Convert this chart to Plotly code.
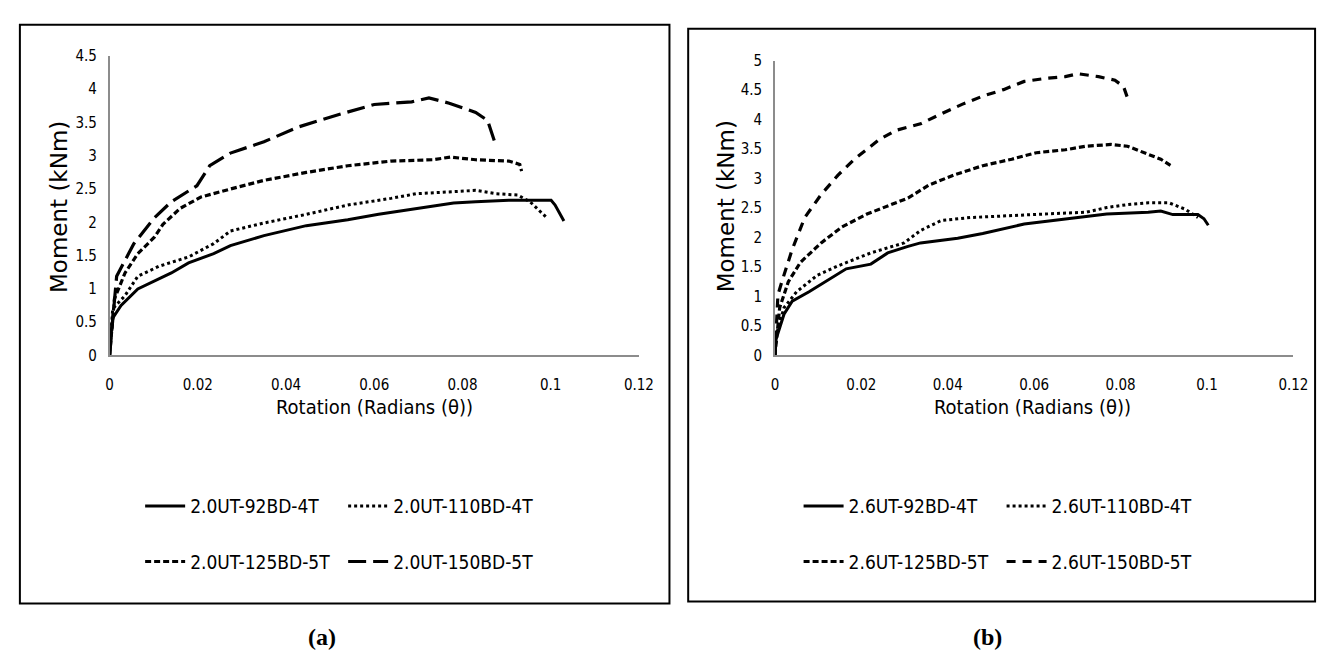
import plotly.graph_objects as go

W, H = 1328, 657

# ---------------- data: panel (a) ----------------
a92_x = [0, 0.0002, 0.0007, 0.0026, 0.0064, 0.0102, 0.014, 0.0179, 0.0236, 0.0274, 0.035, 0.0446, 0.054, 0.061, 0.0685, 0.0733, 0.078, 0.083, 0.0905, 0.1001, 0.101, 0.103]
a92_y = [0, 0.22, 0.56, 0.75, 1.0, 1.12, 1.24, 1.39, 1.53, 1.65, 1.8, 1.95, 2.04, 2.12, 2.19, 2.24, 2.29, 2.31, 2.33, 2.33, 2.26, 2.02]

a110_x = [0, 0.0007, 0.0035, 0.0064, 0.0112, 0.0179, 0.0236, 0.0274, 0.035, 0.0446, 0.054, 0.0638, 0.0695, 0.078, 0.083, 0.0877, 0.0925, 0.0953, 0.0977, 0.0991]
a110_y = [0, 0.7, 0.9, 1.19, 1.34, 1.48, 1.68, 1.87, 1.99, 2.12, 2.26, 2.36, 2.43, 2.46, 2.48, 2.43, 2.41, 2.31, 2.16, 2.07]

a125_x = [0, 0.0011, 0.0035, 0.0064, 0.0102, 0.0121, 0.016, 0.0207, 0.0274, 0.035, 0.0446, 0.054, 0.0638, 0.0733, 0.0772, 0.083, 0.0905, 0.093, 0.0934]
a125_y = [0, 0.85, 1.24, 1.53, 1.78, 1.97, 2.21, 2.38, 2.5, 2.63, 2.75, 2.85, 2.92, 2.94, 2.98, 2.94, 2.92, 2.87, 2.77]

a150_x = [0, 0.0016, 0.0055, 0.0102, 0.014, 0.0198, 0.0227, 0.0274, 0.035, 0.0427, 0.052, 0.060, 0.0685, 0.0724, 0.077, 0.083, 0.0857, 0.0872]
a150_y = [0, 1.19, 1.68, 2.07, 2.31, 2.55, 2.85, 3.04, 3.21, 3.43, 3.62, 3.77, 3.81, 3.87, 3.79, 3.65, 3.53, 3.23]

# ---------------- data: panel (b) ----------------
b92_x = [0, 0.0002, 0.0021, 0.004, 0.0079, 0.0117, 0.0165, 0.0222, 0.0261, 0.0308, 0.0337, 0.0423, 0.0481, 0.0577, 0.0672, 0.0768, 0.0864, 0.0893, 0.0921, 0.0979, 0.0993, 0.1003]
b92_y = [0, 0.26, 0.7, 0.92, 1.08, 1.25, 1.47, 1.55, 1.74, 1.85, 1.91, 1.99, 2.07, 2.23, 2.32, 2.4, 2.43, 2.45, 2.39, 2.39, 2.32, 2.21]

b110_x = [0, 0.0004, 0.0021, 0.005, 0.0098, 0.0146, 0.0222, 0.0299, 0.0337, 0.0385, 0.0452, 0.0529, 0.0625, 0.072, 0.0768, 0.0816, 0.0864, 0.0912, 0.095, 0.0979]
b110_y = [0, 0.37, 0.81, 1.08, 1.36, 1.52, 1.74, 1.91, 2.12, 2.29, 2.34, 2.37, 2.4, 2.43, 2.51, 2.56, 2.59, 2.59, 2.48, 2.34]

b125_x = [0, 0.0011, 0.0031, 0.0059, 0.0107, 0.0155, 0.0213, 0.027, 0.0308, 0.0356, 0.0414, 0.0481, 0.0548, 0.0605, 0.0672, 0.072, 0.0778, 0.0816, 0.0854, 0.0893, 0.0917]
b125_y = [0, 0.81, 1.25, 1.58, 1.91, 2.18, 2.4, 2.56, 2.67, 2.89, 3.06, 3.22, 3.33, 3.44, 3.49, 3.55, 3.58, 3.55, 3.44, 3.33, 3.22]

b150_x = [0, 0.0002, 0.0007, 0.0016, 0.004, 0.0069, 0.0107, 0.0146, 0.0184, 0.0222, 0.0241, 0.028, 0.0337, 0.0385, 0.0433, 0.0481, 0.0529, 0.0577, 0.0625, 0.0672, 0.0701, 0.0749, 0.0787, 0.0807, 0.0816]
b150_y = [0, 0.32, 1.03, 1.25, 1.8, 2.34, 2.73, 3.06, 3.33, 3.55, 3.66, 3.82, 3.93, 4.1, 4.26, 4.4, 4.51, 4.65, 4.7, 4.73, 4.78, 4.73, 4.67, 4.56, 4.37]

names_a = ["2.0UT-92BD-4T", "2.0UT-110BD-4T", "2.0UT-125BD-5T", "2.0UT-150BD-5T"]
names_b = ["2.6UT-92BD-4T", "2.6UT-110BD-4T", "2.6UT-125BD-5T", "2.6UT-150BD-5T"]

x_ticks = [0, 0.02, 0.04, 0.06, 0.08, 0.1, 0.12]
x_ticktext = ["0", "0.02", "0.04", "0.06", "0.08", "0.1", "0.12"]
ya_ticks = [0, 0.5, 1, 1.5, 2, 2.5, 3, 3.5, 4, 4.5]
yb_ticks = [0, 0.5, 1, 1.5, 2, 2.5, 3, 3.5, 4, 4.5, 5]

x_title = "Rotation (Radians (θ))"
y_title = "Moment (kNm)"

NARROW = "Liberation Sans Narrow, Arial Narrow, DejaVu Sans Condensed, sans-serif"

def px(x):
    return x / W

def py(y):
    return 1 - y / H

styles_a = [
    dict(width=3, dash="solid"),
    dict(width=3, dash="dot"),
    dict(width=3.2, dash="6px,3px"),
    dict(width=3.2, dash="18px,7px"),
]
styles_b = [
    dict(width=3, dash="solid"),
    dict(width=3, dash="dot"),
    dict(width=3.2, dash="6px,3px"),
    dict(width=3.2, dash="9px,7px"),
]

fig = go.Figure()

series_a = [(a92_x, a92_y), (a110_x, a110_y), (a125_x, a125_y), (a150_x, a150_y)]
series_b = [(b92_x, b92_y), (b110_x, b110_y), (b125_x, b125_y), (b150_x, b150_y)]
leg_a = ["legend", "legend", "legend2", "legend2"]
leg_b = ["legend3", "legend3", "legend4", "legend4"]

for (xs, ys), nm, st, lg in zip(series_a, names_a, styles_a, leg_a):
    fig.add_trace(go.Scatter(x=xs, y=ys, name=nm, mode="lines",
                             line=dict(color="black", **st),
                             xaxis="x", yaxis="y", legend=lg))
for (xs, ys), nm, st, lg in zip(series_b, names_b, styles_b, leg_b):
    fig.add_trace(go.Scatter(x=xs, y=ys, name=nm, mode="lines",
                             line=dict(color="black", **st),
                             xaxis="x2", yaxis="y2", legend=lg))

axis_common = dict(showgrid=False, zeroline=False, showline=True,
                   linecolor="#8c8c8c", linewidth=1.5, ticks="",
                   tickfont=dict(family=NARROW, size=15, color="black"))

fig.update_layout(
    width=W, height=H,
    margin=dict(l=0, r=0, t=0, b=0),
    paper_bgcolor="white", plot_bgcolor="white",
    showlegend=True,
    xaxis=dict(domain=[px(99), px(636)], range=[0, 0.12], anchor="y",
               tickvals=x_ticks, ticktext=x_ticktext, ticklabelstandoff=15, **axis_common),
    yaxis=dict(domain=[py(348), py(40)], range=[0, 4.5], anchor="x",
               tickvals=ya_ticks, ticklabelstandoff=8, **axis_common),
    xaxis2=dict(domain=[px(774), px(1300)], range=[0, 0.12], anchor="y2",
                tickvals=x_ticks, ticktext=x_ticktext, ticklabelstandoff=15, **axis_common),
    yaxis2=dict(domain=[py(348), py(45)], range=[0, 5], anchor="x2",
                tickvals=yb_ticks, ticklabelstandoff=8, **axis_common),
)

legend_common = dict(orientation="h", xanchor="left", yanchor="middle",
                     font=dict(family=NARROW, size=19, color="black"),
                     bgcolor="rgba(0,0,0,0)", borderwidth=0,
                     entrywidth=148, entrywidthmode="pixels", itemwidth=40)
fig.update_layout(
    legend=dict(x=px(130), y=py(503), **legend_common),
    legend2=dict(x=px(130), y=py(560), **legend_common),
    legend3=dict(x=px(798), y=py(503), **legend_common),
    legend4=dict(x=px(798), y=py(560), **legend_common),
)

# panel borders
fig.add_shape(type="rect", xref="paper", yref="paper",
              x0=px(8), x1=px(667), y0=py(603), y1=py(8),
              line=dict(color="black", width=2))
fig.add_shape(type="rect", xref="paper", yref="paper",
              x0=px(686), x1=px(1322), y0=py(601), y1=py(12),
              line=dict(color="black", width=2))

# axis titles
for cx in (368, 1035):
    fig.add_annotation(x=px(cx), y=py(401), xref="paper", yref="paper",
                       xanchor="center", yanchor="middle",
                       text=x_title, showarrow=False,
                       font=dict(family=NARROW, size=20, color="black"))
for cx, cy in ((47, 195), (724, 195)):
    fig.add_annotation(x=px(cx), y=py(cy), xref="paper", yref="paper",
                       xanchor="center", yanchor="middle",
                       text=y_title, textangle=-90, showarrow=False,
                       font=dict(family="DejaVu Sans", size=23, color="black"))

# panel labels
for cx, lab in ((315, "(a)"), (990, "(b)")):
    fig.add_annotation(x=px(cx), y=py(637), xref="paper", yref="paper",
                       xanchor="center", yanchor="middle",
                       text="<b>" + lab + "</b>", showarrow=False,
                       font=dict(family="Liberation Serif", size=24, color="black"))

fig.write_html("out.html")
